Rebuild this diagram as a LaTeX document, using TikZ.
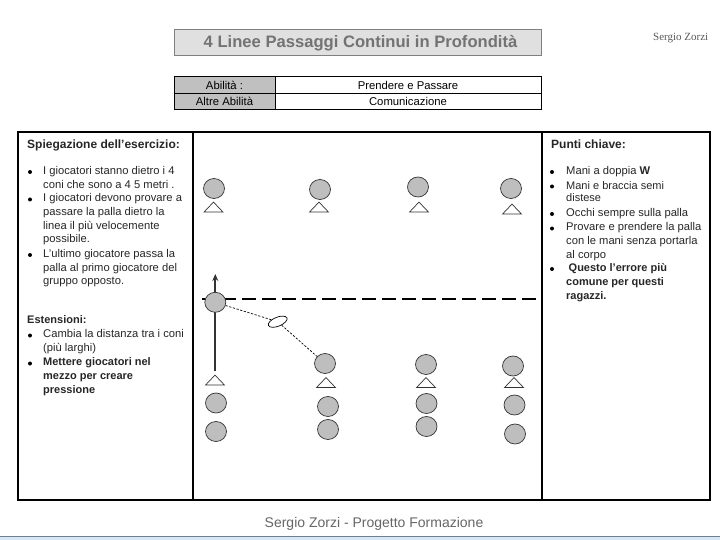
\documentclass[tikz,border=0pt]{standalone}
\usepackage{fontspec}
\setmainfont{Liberation Sans}
\newfontfamily\serifname{Liberation Serif}
\usetikzlibrary{shapes.geometric, arrows.meta, positioning, calc}
\definecolor{titlegray}{RGB}{224,224,224}
\definecolor{cellgray}{RGB}{192,192,192}
\definecolor{playergray}{RGB}{190,190,190}
\definecolor{stripblue}{RGB}{214,230,244}
\definecolor{stripline}{RGB}{110,130,140}

\begin{document}
\begin{tikzpicture}[x=1pt, y=-1pt,
    titlebox/.style={rectangle, draw=gray, fill=titlegray, line width=1pt, minimum width=367pt,
                  minimum height=26pt, inner sep=0pt, font=\fontsize{16.6}{18}\selectfont\bfseries, text=black!55},
    cell/.style={rectangle, draw, line width=0.8pt, minimum height=16.5pt, inner sep=0pt,
                  font=\fontsize{11.3}{13}\selectfont},
    panel/.style={rectangle, draw, line width=1.4pt, anchor=north west, inner sep=0pt, outer sep=0pt},
    txt/.style={anchor=north west, inner sep=0pt, align=left, text=black!85,
                  font=\fontsize{11.2}{13.7}\selectfont},
    txtb/.style={txt, font=\fontsize{11}{13.7}\selectfont\bfseries},
    head/.style={txt, font=\fontsize{12}{13.7}\selectfont\bfseries},
    dot/.style={circle, fill=black, inner sep=0pt, minimum size=4pt},
    player/.style={ellipse, draw=black!80, fill=playergray, line width=0.7pt, minimum width=21pt,
                  minimum height=20pt, inner sep=0pt},
    cone/.style={isosceles triangle, isosceles triangle stretches, shape border rotate=90,
                  draw=black!80, fill=white, line width=0.7pt, minimum width=19pt,
                  minimum height=10pt, inner sep=0pt},
    run/.style={-{Stealth[length=7pt,width=6pt]}, line width=2pt, black!80},
    pass/.style={dash pattern=on 2.2pt off 1.6pt, line width=0.7pt},
    backline/.style={dash pattern=on 14pt off 6pt, line width=1.7pt}]

\useasboundingbox (0,0) rectangle (720,540);

%% Bottom strip
\fill[stripblue] (0,536.5) rectangle (720,540);
\draw[stripline, line width=0.8pt] (0,536.5) -- (720,536.5);

%% Title and skills table
\node[titlebox] (title) at (357.5,43) {\hspace*{6pt}4 Linee Passaggi Continui in Profondità};
\node[anchor=east, inner sep=0pt, text=black!65, font=\fontsize{11}{13}\serifname] (author) at (708.5,38.5) {Sergio Zorzi};

\node[cell, fill=cellgray, minimum width=101pt] (skilla) at (224.5,85) {Abilità :};
\node[cell, minimum width=266pt] (skillb) at (408,85) {Prendere e Passare};
\node[cell, fill=cellgray, minimum width=101pt] (othera) at (224.5,101.5) {Altre Abilità};
\node[cell, minimum width=266pt] (otherb) at (408,101.5) {Comunicazione};

%% Panels
\node[panel, minimum width=175pt, minimum height=368pt] (left) at (18,132) {};
\node[panel, minimum width=168pt, minimum height=368pt] (right) at (542,132) {};
\node[panel, line width=2pt, minimum width=349pt, minimum height=368pt] (field) at (193,132) {};

%% Left text
\node[head] (explain) at (27,139.5) {Spiegazione dell'esercizio:};
\node[txt] (ex1) at (43,166.5) {I giocatori stanno dietro i 4\\coni che sono a 4 5 metri .};
\node[txt] (ex2) at (43,193.5) {I giocatori devono provare a\\passare la palla dietro la\\linea il più velocemente\\possibile.};
\node[txt] (ex3) at (43,249) {L'ultimo giocatore passa la\\palla al primo giocatore del\\gruppo opposto.};
\foreach \y in {172,199.5,255,335.5,363.5}
    \node[dot] at (30,\y) {};

\node[txtb] (extend) at (27,315.5) {Estensioni:};
\node[txt] (ext1) at (43,329.5) {Cambia la distanza tra i coni\\(più larghi)};
\node[txtb] (ext2) at (43,357.5) {Mettere giocatori nel\\mezzo per creare\\pressione};

%% Right text
\node[head] (keys) at (551,139.5) {Punti chiave:};
\node[txt] (key1) at (566,166.5) {Mani a doppia \textbf{W}};
\node[txt, font=\fontsize{11}{12.8}\selectfont] (key2) at (566,181) {Mani e braccia semi\\distese};
\node[txt] (key3) at (566,208) {Occhi sempre sulla palla};
\node[txt] (key4) at (566,222.5) {Provare e prendere la palla\\con le mani senza portarla\\al corpo};
\node[txtb] (key5) at (566,263.5) {\hspace{2.5pt}Questo l'errore più\\comune per questi\\ragazzi.};
\foreach \y in {172,186.5,214,228.5,269}
    \node[dot] at (552,\y) {};

%% Players and cones
\foreach \n/\x/\y in {a/214/188.5,b/320/189.5,c/418/187,d/511/188.5,
                      e/325/363.5,f/426/364.5,g/513/366,
                      h/216/403,i/328/406.5,j/426.5/403.5,k/514.5/405,
                      l/216/431.5,m/328/429.5,n/426.5/426.5,o/515/434}
    \node[player] (pl\n) at (\x,\y) {};
\foreach \n/\x/\y in {a/213.5/208,b/319/208,c/419/208,d/512/210,
                      e/215/381,f/326/383.5,g/426/383.5,h/514/383.5}
    \node[cone] (co\n) at (\x,\y) {};

%% Running line, back line and pass
\coordinate (runstart) at (215.3,371);
\coordinate (runend) at (215.3,274);
\coordinate (backl) at (202,299);
\coordinate (backr) at (536,299);
\draw[run] (runstart) -- (runend);
\draw[backline] (backl) -- (backr);
\node[player] (carrier) at (215.3,302.3) {};
\node[ellipse, draw, line width=0.7pt, fill=white, minimum width=20pt, minimum height=9pt,
      inner sep=0pt, rotate=22] (ball) at (277.7,321.7) {};
\draw[pass] (carrier) -- (ball) -- (ple);

%% Footer
\node[inner sep=0pt, text=black!60, font=\fontsize{14}{16}\selectfont] (footer) at (374,523.5) {Sergio Zorzi - Progetto Formazione};

\end{tikzpicture}
\end{document}
